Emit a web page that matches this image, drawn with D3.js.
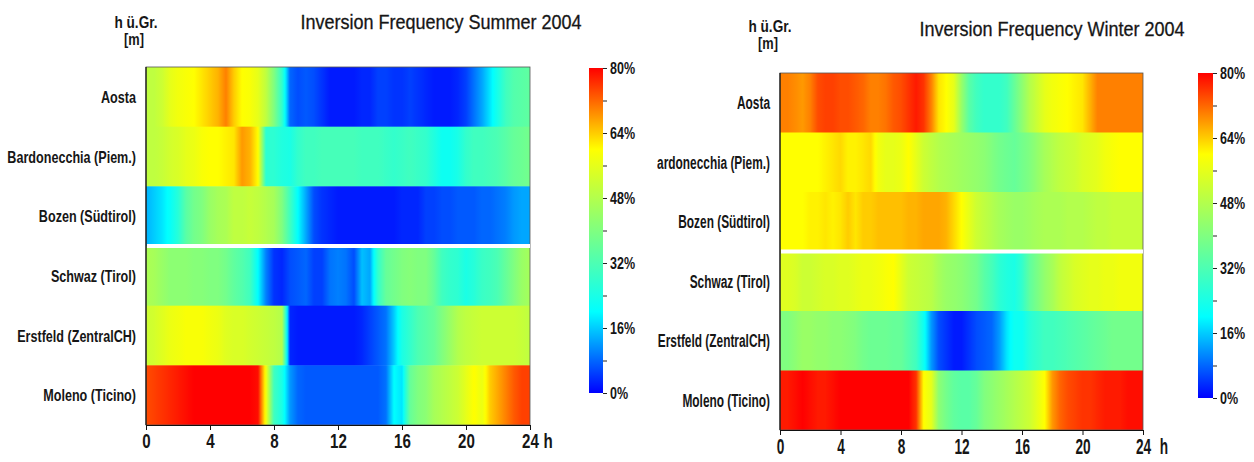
<!DOCTYPE html>
<html>
<head>
<meta charset="utf-8">
<script src="https://cdn.jsdelivr.net/npm/d3@7"></script>
<style>
  body { margin: 0; background: #fff; }
  text { font-family: "Liberation Sans", Arial, sans-serif; fill: #161616; }
</style>
</head>
<body>
<svg id="chart" width="1254" height="462"></svg>
<script>
// Stations, top to bottom
const stations = [
  "Aosta", "Bardonecchia (Piem.)", "Bozen (Südtirol)",
  "Schwaz (Tirol)", "Erstfeld (ZentralCH)", "Moleno (Ticino)"
];

// Hour of day for each sample (half-hourly, 0 h to 24 h)
const sampleHours = d3.range(0, 24.5, 0.5);
const hourTicks = [0, 4, 8, 12, 16, 20, 24];
const pctTicks = [0, 8, 16, 24, 32, 40, 48, 56, 64, 72, 80];
const pctLabels = [0, 16, 32, 48, 64, 80];

// Inversion frequency [%], summer 2004, half-hourly from 0 h to 24 h
// (one line = four hours)
const summerAosta = [
  50, 50, 52, 56, 58, 59, 60, 62,
  64, 66, 70, 64, 60, 59, 56, 50,
  40, 28, 8, 6, 7, 6, 4, 2,
  2, 2, 2, 3, 3, 5, 5, 4,
  4, 5, 4, 3, 2, 2, 2, 3,
  5, 9, 13, 18, 24, 30, 33, 34,
  35];
const summerBardonecchia = [
  50, 50, 51, 53, 54, 56, 57, 59,
  60, 60, 61, 62, 68, 66, 60, 27,
  27, 25, 24, 28, 30, 30, 31, 31,
  31, 31, 31, 30, 30, 30, 29, 28,
  29, 30, 29, 28, 25, 22, 22, 24,
  28, 30, 30, 31, 32, 34, 36, 37,
  38];
const summerBozen = [
  14, 16, 18, 21, 26, 34, 38, 40,
  44, 46, 47, 50, 50, 51, 50, 48,
  46, 40, 30, 20, 13, 6, 4, 3,
  2, 2, 2, 2, 2, 2, 2, 2,
  3, 3, 3, 5, 5, 6, 6, 7,
  7, 7, 8, 8, 9, 10, 12, 13,
  13];
const summerSchwaz = [
  47, 46, 44, 42, 42, 42, 41, 41,
  40, 40, 38, 35, 33, 30, 20, 10,
  4, 3, 6, 7, 8, 5, 5, 9,
  10, 9, 6, 15, 13, 28, 36, 38,
  40, 41, 40, 40, 36, 30, 28, 27,
  24, 26, 29, 30, 32, 36, 40, 44,
  46];
const summerErstfeld = [
  52, 53, 55, 57, 58, 59, 59, 59,
  58, 57, 55, 54, 54, 53, 52, 51,
  50, 48, 3, 2, 2, 2, 2, 2,
  2, 2, 2, 3, 5, 7, 9, 16,
  24, 28, 32, 34, 36, 40, 44, 48,
  50, 51, 52, 52, 52, 52, 52, 51,
  50];
const summerMoleno = [
  74, 75, 76, 77, 78, 79, 80, 80,
  80, 80, 80, 80, 80, 80, 79, 58,
  30, 24, 12, 8, 7, 7, 7, 7,
  7, 7, 7, 7, 7, 7, 9, 20,
  18, 36, 40, 42, 46, 48, 50, 52,
  56, 60, 57, 64, 67, 70, 73, 75,
  75];

// Inversion frequency [%], winter 2004, half-hourly from 0 h to 24 h
const winterAosta = [
  70, 70, 69, 68, 70, 74, 75, 75,
  74, 74, 73, 72, 70, 70, 71, 73,
  74, 76, 78, 76, 70, 62, 60, 56,
  44, 34, 30, 28, 28, 28, 30, 36,
  42, 48, 52, 56, 58, 59, 60, 61,
  62, 66, 70, 70, 70, 70, 70, 70,
  70];
const winterBardonecchia = [
  60, 60, 60, 60, 60, 60, 61, 62,
  63, 61, 61, 62, 63, 58, 56, 56,
  57, 60, 56, 52, 50, 48, 47, 46,
  45, 44, 43, 42, 40, 38, 37, 36,
  38, 40, 43, 46, 48, 50, 51, 52,
  54, 55, 56, 58, 59, 60, 60, 60,
  60];
const winterBozen = [
  60, 60, 60, 60, 61, 61, 62, 61,
  62, 64, 62, 64, 64, 65, 65, 65,
  65, 66, 66, 67, 67, 67, 66, 63,
  60, 56, 52, 50, 48, 46, 45, 44,
  44, 45, 46, 47, 47, 47, 48, 48,
  48, 49, 50, 50, 51, 51, 51, 51,
  51];
const winterSchwaz = [
  55, 55, 54, 52, 52, 53, 54, 54,
  55, 55, 56, 57, 57, 58, 59, 60,
  56, 52, 51, 50, 49, 46, 44, 43,
  42, 40, 38, 34, 31, 27, 25, 24,
  28, 35, 39, 43, 46, 50, 52, 54,
  55, 56, 56, 57, 57, 58, 58, 58,
  58];
const winterErstfeld = [
  40, 40, 42, 44, 44, 43, 43, 42,
  42, 41, 40, 38, 37, 37, 37, 36,
  36, 33, 30, 22, 12, 6, 4, 2,
  2, 4, 6, 7, 8, 12, 18, 22,
  22, 26, 28, 30, 30, 31, 32, 33,
  34, 35, 36, 37, 38, 38, 38, 38,
  38];
const winterMoleno = [
  78, 78, 79, 80, 79, 78, 78, 79,
  80, 80, 80, 80, 80, 80, 80, 80,
  80, 80, 76, 60, 56, 42, 38, 35,
  34, 34, 36, 40, 42, 44, 46, 48,
  50, 52, 56, 60, 68, 72, 74, 75,
  76, 76, 77, 78, 78, 78, 79, 79,
  79];

const summerRows = [summerAosta, summerBardonecchia, summerBozen, summerSchwaz, summerErstfeld, summerMoleno];
const winterRows = [winterAosta, winterBardonecchia, winterBozen, winterSchwaz, winterErstfeld, winterMoleno];

// Jet-style colour ramp, 0 % blue to 80 % red
const color = d3.scaleLinear()
  .domain([0, 20, 60, 80])
  .range(["#0000ff", "#00ffff", "#ffff00", "#ff0000"])
  .clamp(true);

// squeeze a text horizontally to a narrow face
function condense(sel, k) {
  sel.each(function () {
    const w = this.getComputedTextLength();
    if (w > 0) d3.select(this).attr("textLength", w * k).attr("lengthAdjust", "spacingAndGlyphs");
  });
}

const svg = d3.select("#chart");
const defs = svg.append("defs");

const panels = [
  {
    id: "summer", title: "Inversion Frequency Summer 2004", rows: summerRows,
    x0: 146, x1: 530, y0: 67, y1: 425,
    cbX: 589, cbW: 14, cbY0: 68, cbY1: 393,
    titleX: 441, titleY: 29, unitX: 136, unitY: 28,
    clipX: 0, labelFont: 17, labelK: 0.74, tickFont: 21, tickK: 0.72, hGap: 18
  },
  {
    id: "winter", title: "Inversion Frequency Winter 2004", rows: winterRows,
    x0: 780, x1: 1143, y0: 73, y1: 430,
    cbX: 1198, cbW: 15, cbY0: 73, cbY1: 398,
    titleX: 1052, titleY: 36, unitX: 770, unitY: 32,
    clipX: 657, labelFont: 18, labelK: 0.66, tickFont: 22, tickK: 0.62, hGap: 21
  }
];

panels.forEach(p => {
  const g = svg.append("g");
  const x = d3.scaleLinear().domain([0, 24]).range([p.x0, p.x1]);
  const y = d3.scaleBand().domain(stations).range([p.y0, p.y1]);

  // one horizontal gradient per station row
  p.rows.forEach((vals, r) => {
    const grad = defs.append("linearGradient")
      .attr("id", `${p.id}-row-${r}`)
      .attr("gradientUnits", "userSpaceOnUse")
      .attr("x1", x(0)).attr("x2", x(24)).attr("y1", 0).attr("y2", 0);
    const stops = [];
    const sub = 6;
    for (let i = 0; i < vals.length - 1; i++) {
      const f = d3.interpolateNumber(vals[i], vals[i + 1]);
      for (let k = 0; k < sub; k++) {
        const t = sampleHours[i] + (sampleHours[i + 1] - sampleHours[i]) * k / sub;
        stops.push({ h: t, v: f(k / sub) });
      }
    }
    stops.push({ h: sampleHours[vals.length - 1], v: vals[vals.length - 1] });
    grad.selectAll("stop").data(stops).join("stop")
      .attr("offset", d => d.h / 24)
      .attr("stop-color", d => color(d.v));
  });

  g.selectAll("rect.row").data(stations).join("rect")
    .attr("class", "row")
    .attr("x", x(0))
    .attr("y", d => y(d))
    .attr("width", x(24) - x(0))
    .attr("height", y.bandwidth() + 0.5)
    .attr("fill", (d, i) => `url(#${p.id}-row-${i})`);

  // frame
  g.append("rect")
    .attr("x", x(0)).attr("y", p.y0)
    .attr("width", x(24) - x(0)).attr("height", p.y1 - p.y0)
    .attr("fill", "none").attr("stroke", "#555").attr("stroke-width", 0.8);

  // white separator between the western and the central/southern stations
  const sepY = y(stations[3]);
  g.append("line")
    .attr("x1", x(0) + 1).attr("x2", x(24))
    .attr("y1", sepY).attr("y2", sepY)
    .attr("stroke", "#fff").attr("stroke-width", 4);

  // left axis line
  g.append("line")
    .attr("x1", x(0)).attr("x2", x(0))
    .attr("y1", p.y0).attr("y2", p.y1)
    .attr("stroke", "#111").attr("stroke-width", 1.2);

  // hour axis
  const ax = g.append("g")
    .attr("transform", `translate(0,${p.y1})`)
    .call(d3.axisBottom(x).tickValues(hourTicks).tickSize(5).tickSizeOuter(0).tickPadding(3));
  ax.select(".domain").attr("stroke", "#111").attr("stroke-width", 1.2);
  ax.selectAll(".tick line").attr("stroke", "#111");
  ax.selectAll(".tick text")
    .style("font-size", p.tickFont + "px").style("font-weight", "bold")
    .style("font-family", '"Liberation Sans", Arial, sans-serif')
    .attr("fill", "#161616")
    .call(condense, p.tickK);
  g.append("text")
    .attr("x", x(24) + p.hGap).attr("y", p.y1 + 8)
    .attr("dy", "0.71em")
    .attr("text-anchor", "middle")
    .style("font-size", p.tickFont + "px").style("font-weight", "bold")
    .text("h")
    .call(condense, p.tickK);

  // station labels (clipped at the panel edge)
  const clipId = `${p.id}-clip`;
  defs.append("clipPath").attr("id", clipId)
    .append("rect").attr("x", p.clipX).attr("y", 0).attr("width", 2000).attr("height", 462);
  g.append("g").attr("clip-path", `url(#${clipId})`)
    .selectAll("text").data(stations).join("text")
    .attr("x", x(0) - 10)
    .attr("y", d => y(d) + y.bandwidth() / 2)
    .attr("dy", "0.36em")
    .attr("text-anchor", "end")
    .style("font-size", p.labelFont + "px").style("font-weight", "bold")
    .text(d => d)
    .call(condense, p.labelK);

  // title and height unit
  g.append("text")
    .attr("x", p.titleX).attr("y", p.titleY)
    .attr("text-anchor", "middle")
    .style("font-size", "20px")
    .attr("stroke", "#161616").attr("stroke-width", 0.3)
    .text(p.title)
    .call(condense, 0.9);
  g.append("text")
    .attr("x", p.unitX).attr("y", p.unitY)
    .attr("text-anchor", "middle")
    .style("font-size", "17px").style("font-weight", "bold")
    .text("h ü.Gr.")
    .call(condense, 0.8);
  g.append("text")
    .attr("x", p.unitX - 2).attr("y", p.unitY + 17)
    .attr("text-anchor", "middle")
    .style("font-size", "16px").style("font-weight", "bold")
    .text("[m]")
    .call(condense, 0.8);

  // colour bar
  const cy = d3.scaleLinear().domain([0, 80]).range([p.cbY1, p.cbY0]);
  const cbGrad = defs.append("linearGradient")
    .attr("id", `${p.id}-cb`)
    .attr("gradientUnits", "userSpaceOnUse")
    .attr("x1", 0).attr("x2", 0).attr("y1", cy(0)).attr("y2", cy(80));
  cbGrad.selectAll("stop").data(d3.range(0, 81, 2)).join("stop")
    .attr("offset", d => d / 80)
    .attr("stop-color", d => color(d));
  g.append("rect")
    .attr("x", p.cbX).attr("y", cy(80))
    .attr("width", p.cbW).attr("height", cy(0) - cy(80))
    .attr("fill", `url(#${p.id}-cb)`);
  const cax = g.append("g")
    .attr("transform", `translate(${p.cbX + p.cbW},0)`)
    .call(d3.axisRight(cy).tickValues(pctTicks).tickSize(4).tickPadding(3)
      .tickFormat(d => pctLabels.includes(d) ? d + "%" : ""));
  cax.select(".domain").remove();
  cax.selectAll(".tick line").attr("stroke", "#222");
  cax.selectAll(".tick text")
    .style("font-size", "16px").style("font-weight", "bold")
    .style("font-family", '"Liberation Sans", Arial, sans-serif')
    .attr("fill", "#161616")
    .call(condense, 0.78);
});
</script>
</body>
</html>
